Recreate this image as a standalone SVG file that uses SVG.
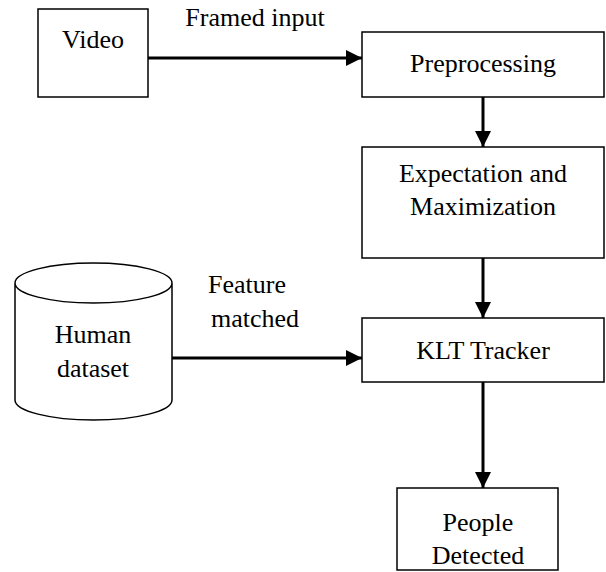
<svg xmlns="http://www.w3.org/2000/svg" width="606" height="572" viewBox="0 0 606 572">
<defs>
<style>
.box{fill:#fff;stroke:#000;stroke-width:1.5}
.t{font-family:'Liberation Serif','Times New Roman','DejaVu Serif',serif;font-size:26px;fill:#000;text-anchor:middle}
.c{stroke:#000;stroke-width:3;fill:none}
</style>
<marker id="ah" markerWidth="16" markerHeight="16" refX="16" refY="8" orient="auto" markerUnits="userSpaceOnUse" viewBox="0 0 16 16">
<path d="M0,0 L16,8 L0,16 z" fill="#000"/>
</marker>
</defs>
<rect width="606" height="572" fill="#fff"/>
<g id="connectors">
<line class="c" x1="148" y1="58" x2="362" y2="58" marker-end="url(#ah)"/>
<line class="c" x1="483" y1="97" x2="483" y2="147" marker-end="url(#ah)"/>
<line class="c" x1="483" y1="258" x2="483" y2="318" marker-end="url(#ah)"/>
<line class="c" x1="172" y1="358" x2="362" y2="358" marker-end="url(#ah)"/>
<line class="c" x1="483" y1="382" x2="483" y2="488" marker-end="url(#ah)"/>
<text class="t" x="255" y="26">Framed input</text>
<text class="t" x="247" y="293">Feature</text>
<text class="t" x="255" y="327">matched</text>
</g>
<g id="video">
<rect class="box" x="38" y="9" width="110" height="88"/>
<text class="t" x="93" y="48">Video</text>
</g>
<g id="preprocessing">
<rect class="box" x="362" y="32" width="242" height="65"/>
<text class="t" x="483" y="72">Preprocessing</text>
</g>
<g id="em">
<rect class="box" x="362" y="147" width="242" height="111"/>
<text class="t" x="483" y="182">Expectation and</text>
<text class="t" x="483" y="215">Maximization</text>
</g>
<g id="human">
<path class="box" d="M15,283 L15,400 A78.5,20 0 0 0 172,400 L172,283 A78.5,20 0 0 0 15,283 A78.5,20 0 0 0 172,283"/>
<text class="t" x="93" y="343">Human</text>
<text class="t" x="93" y="377">dataset</text>
</g>
<g id="klt">
<rect class="box" x="362" y="318" width="242" height="64"/>
<text class="t" x="483" y="359">KLT Tracker</text>
</g>
<g id="people">
<rect class="box" x="397" y="488" width="161" height="82"/>
<text class="t" x="478" y="531">People</text>
<text class="t" x="478" y="564">Detected</text>
</g>
</svg>
